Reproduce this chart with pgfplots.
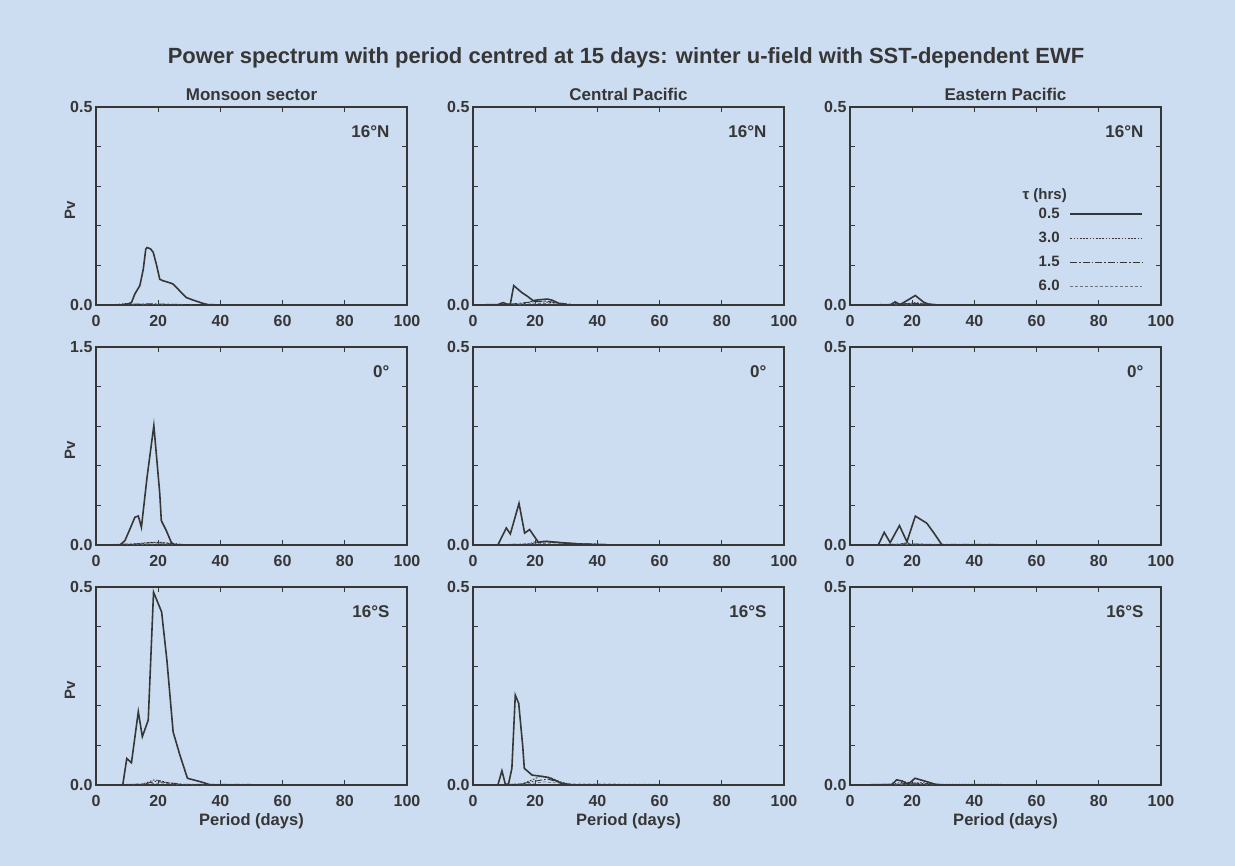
\documentclass[border=0pt]{standalone}
\usepackage{fontspec}
\setmainfont{Liberation Sans}
\usepackage{pgfplots}
\pgfplotsset{compat=1.18}

\definecolor{paper}{HTML}{CCDDF1}
\definecolor{ink}{HTML}{363636}
\definecolor{soft}{HTML}{6E7480}

\pgfplotsset{
  panel/.style={
    scale only axis, width=311pt, height=198pt,
    xmin=0, xmax=100, ymin=0,
    xtick={0,20,...,100},
    tick align=inside, major tick length=5pt, minor tick length=5pt,
    axis line style={draw=ink, line width=1.3pt},
    every tick/.style={draw=ink, line width=0.9pt},
    every minor tick/.style={draw=ink, line width=0.9pt},
    /pgf/number format/assume math mode=true,
    every tick label/.append style={font=\bfseries\fontsize{16}{16}\selectfont, text=ink},
    xticklabel style={yshift=-7pt},
    yticklabel style={/pgf/number format/.cd, fixed, fixed zerofill, precision=1},
    title style={font=\bfseries\fontsize{17}{17}\selectfont, text=ink, yshift=-3pt},
    xlabel style={font=\bfseries\fontsize{16.5}{16.5}\selectfont, text=ink,
                  at={(axis description cs:0.5,0)}, anchor=center, yshift=-36pt},
    ylabel style={font=\bfseries\fontsize{15}{15}\selectfont, text=ink,
                  at={(axis description cs:-0.084,0.48)}, anchor=center},
  },
  low/.style={ymax=0.5, ytick={0,0.5}, minor ytick={0.1,0.2,0.3,0.4}},
  high/.style={ymax=1.5, ytick={0,1.5}, minor ytick={0.3,0.6,0.9,1.2}},
  t05/.style={draw=ink, line width=1.6pt, solid},
  t30/.style={draw=ink, line width=0.9pt, dash pattern=on 1.6pt off 1.6pt},
  t15/.style={draw=ink, line width=0.9pt, dash pattern=on 7pt off 2pt on 1.5pt off 2pt},
  t60/.style={draw=soft, line width=0.7pt, dash pattern=on 3pt off 2pt},
}

% latitude tag in the upper right corner of a panel
\newcommand{\lat}[1]{\node[anchor=east, font=\bfseries\fontsize{17}{17}\selectfont, text=ink]
  at (rel axis cs:1,1) [xshift=-14pt, yshift=-25pt] {#1};}

\begin{document}
\begin{tikzpicture}[x=1pt,y=1pt]
\fill[paper] (0,0) rectangle (1235,-866);

\node[font=\bfseries\fontsize{22}{22}\selectfont, text=ink] at (626,-58)
  {Power spectrum with period centred at 15 days: winter u-field with SST-dependent EWF};

% ---------------- 16N ----------------
\begin{axis}[panel, low, at={(96pt,-107pt)}, anchor=north west,
  title={Monsoon sector}, ylabel={Pv}]
\addplot[t60] coordinates {(0,0)(10,0.001)(15,0.002)(22,0.001)(35,0)(100,0)};
\addplot[t15] coordinates {(0,0)(8,0.001)(10,0.003)(12,0.002)(18,0.003)(24,0.002)(30,0.001)(40,0)(100,0)};
\addplot[t30] coordinates {(0,0)(6,0.001)(9,0.003)(10,0.004)(11,0.002)(13,0.001)(16,0.002)(20,0.001)(30,0)(100,0)};
\addplot[t05] coordinates {(0,0)(8,0)(10,0.002)(11.4,0.006)(12.5,0.028)(14.1,0.049)(15.2,0.09)(16,0.141)(16.4,0.145)(17.5,0.142)(18.4,0.133)(19.5,0.1)(20.5,0.065)(21.6,0.061)(23,0.058)(24.8,0.053)(27,0.035)(29,0.019)(31,0.013)(34.4,0.004)(36,0.001)(40,0)(100,0)};
\lat{16°N}
\end{axis}

\begin{axis}[panel, low, at={(473pt,-107pt)}, anchor=north west,
  title={Central Pacific}]
\addplot[t60] coordinates {(0,0)(15,0.002)(22,0.004)(30,0.002)(40,0)(100,0)};
\addplot[t15] coordinates {(0,0)(12,0.002)(18,0.007)(23,0.01)(27,0.006)(32,0.001)(100,0)};
\addplot[t30] coordinates {(0,0)(10,0.001)(16,0.003)(19,0.009)(22,0.008)(26,0.006)(30,0.002)(35,0)(100,0)};
\addplot[t05] coordinates {(0,0)(8,0.001)(9.7,0.006)(11,0.002)(12,0.002)(13.1,0.049)(15.6,0.032)(17.5,0.022)(19.3,0.011)(21,0.013)(24,0.015)(25.5,0.012)(27.9,0.003)(30,0)(100,0)};
\lat{16°N}
\end{axis}

\begin{axis}[panel, low, at={(850pt,-107pt)}, anchor=north west,
  title={Eastern Pacific},
  legend plot pos=right, legend cell align=right, reverse legend,
  legend image code/.code={\draw[#1] (0pt,0pt) -- (72pt,0pt);},
  legend style={draw=none, fill=none, at={(0.953,0.505)}, anchor=north east,
    font=\bfseries\fontsize{15}{15}\selectfont, text=ink,
    row sep=10pt, /tikz/column sep=9pt, nodes={inner sep=1pt}}]
\addplot[t60] coordinates {(0,0)(16,0.001)(22,0.003)(30,0.001)(100,0)};
\addlegendentry{6.0}
\addplot[t15] coordinates {(0,0)(14,0.002)(20,0.004)(26,0.002)(32,0)(100,0)};
\addlegendentry{1.5}
\addplot[t30] coordinates {(0,0)(13,0.001)(15,0.004)(17,0.002)(21,0.006)(24,0.003)(28,0.001)(35,0)(100,0)};
\addlegendentry{3.0}
\addplot[t05] coordinates {(0,0)(12.9,0)(14.5,0.008)(16.1,0.001)(18.5,0.012)(21,0.024)(23.7,0.007)(25.3,0.002)(28,0)(100,0)};
\addlegendentry{0.5}
\node[font=\bfseries\fontsize{15}{15}\selectfont, text=ink] at (rel axis cs:0.626,0.55) {τ (hrs)};
\lat{16°N}
\end{axis}

% ---------------- Equator ----------------
\begin{axis}[panel, high, at={(96pt,-347pt)}, anchor=north west, ylabel={Pv}]
\addplot[t60] coordinates {(0,0)(16,0.006)(20,0.01)(25,0.005)(35,0)(100,0)};
\addplot[t15] coordinates {(0,0)(14,0.01)(18,0.018)(22,0.015)(26,0.006)(32,0)(100,0)};
\addplot[t30] coordinates {(0,0)(12,0.005)(15,0.015)(18,0.02)(21,0.02)(24,0.012)(28,0.004)(35,0)(100,0)};
\addplot[t05] coordinates {(0,0)(7.7,0)(9.3,0.033)(10.9,0.12)(12.5,0.21)(13.6,0.22)(14.6,0.134)(16.4,0.51)(18.6,0.905)(20.5,0.39)(21,0.185)(22.6,0.109)(24.2,0.02)(25.3,0)(100,0)};
\lat{0°}
\end{axis}

\begin{axis}[panel, low, at={(473pt,-347pt)}, anchor=north west]
\addplot[t60] coordinates {(0,0)(20,0.003)(26,0.005)(35,0.002)(50,0)(100,0)};
\addplot[t15] coordinates {(0,0)(18,0.002)(22,0.008)(27,0.007)(35,0.003)(45,0.001)(100,0)};
\addplot[t30] coordinates {(0,0)(15,0.001)(18,0.003)(20.4,0.009)(24,0.01)(28,0.007)(33,0.004)(40,0.002)(50,0)(100,0)};
\addplot[t05] coordinates {(0,0)(8,0)(10.7,0.043)(12,0.028)(14.8,0.105)(16.6,0.03)(18.2,0.039)(21,0.007)(23.6,0.009)(27.9,0.006)(33,0.003)(40.8,0.001)(45,0)(100,0)};
\lat{0°}
\end{axis}

\begin{axis}[panel, low, at={(850pt,-347pt)}, anchor=north west]
\addplot[t60] coordinates {(0,0)(15,0.001)(22,0.002)(30,0)(100,0)};
\addplot[t15] coordinates {(0,0)(12,0.001)(18,0.003)(24,0.002)(100,0)};
\addplot[t30] coordinates {(0,0)(16,0.002)(18.5,0.006)(19.5,0.001)(22,0.002)(26,0.001)(100,0)};
\addplot[t05] coordinates {(0,0)(9.1,0)(11,0.032)(12.9,0.006)(15.9,0.049)(18.3,0.008)(21,0.073)(24.7,0.055)(27,0.03)(29.6,0)(100,0)};
\lat{0°}
\end{axis}

% ---------------- 16S ----------------
\begin{axis}[panel, low, at={(96pt,-587pt)}, anchor=north west,
  ylabel={Pv}, xlabel={Period (days)}]
\addplot[t60] coordinates {(0,0)(17,0.003)(21,0.005)(26,0.002)(35,0)(100,0)};
\addplot[t15] coordinates {(0,0)(15,0.002)(19,0.009)(23,0.006)(28,0.002)(100,0)};
\addplot[t30] coordinates {(0,0)(14,0.001)(16,0.005)(18.7,0.013)(21,0.01)(24,0.004)(28,0.001)(35,0)(100,0)};
\addplot[t05] coordinates {(0,0)(8.6,0)(9.9,0.067)(11.4,0.056)(13.6,0.185)(14.9,0.122)(16.8,0.164)(18.5,0.487)(21.1,0.437)(22.8,0.315)(24.8,0.134)(27,0.075)(29.4,0.017)(33.7,0.008)(36.9,0)(100,0)};
\lat{16°S}
\end{axis}

\begin{axis}[panel, low, at={(473pt,-587pt)}, anchor=north west,
  xlabel={Period (days)}]
\addplot[t60] coordinates {(0,0)(18,0.003)(23,0.008)(30,0.003)(100,0)};
\addplot[t15] coordinates {(0,0)(15,0.002)(20,0.01)(24,0.015)(28,0.006)(33,0)(100,0)};
\addplot[t30] coordinates {(0,0)(12,0.001)(16,0.003)(19,0.013)(22,0.023)(25,0.018)(28,0.008)(31,0.002)(35,0)(100,0)};
\addplot[t05] coordinates {(0,0)(8,0)(9.3,0.036)(10.4,0.002)(11.4,0.002)(12.5,0.042)(13.6,0.227)(14.7,0.206)(16,0.097)(16.5,0.042)(19,0.025)(21,0.023)(24.3,0.019)(27.5,0.008)(29.6,0)(100,0)};
\lat{16°S}
\end{axis}

\begin{axis}[panel, low, at={(850pt,-587pt)}, anchor=north west,
  xlabel={Period (days)}]
\addplot[t60] coordinates {(0,0)(16,0.001)(22,0.003)(28,0.001)(100,0)};
\addplot[t15] coordinates {(0,0)(15,0.002)(20,0.005)(25,0.003)(30,0)(100,0)};
\addplot[t30] coordinates {(0,0)(14,0.002)(16,0.006)(18,0.008)(20,0.004)(23,0.006)(27,0.002)(100,0)};
\addplot[t05] coordinates {(0,0)(13.4,0.001)(15,0.013)(16.8,0.01)(18.7,0.002)(20.9,0.017)(24,0.01)(27.3,0.002)(30,0)(100,0)};
\lat{16°S}
\end{axis}

\pgfresetboundingbox
\useasboundingbox (0,0) rectangle (1235,-866);
\end{tikzpicture}
\end{document}
